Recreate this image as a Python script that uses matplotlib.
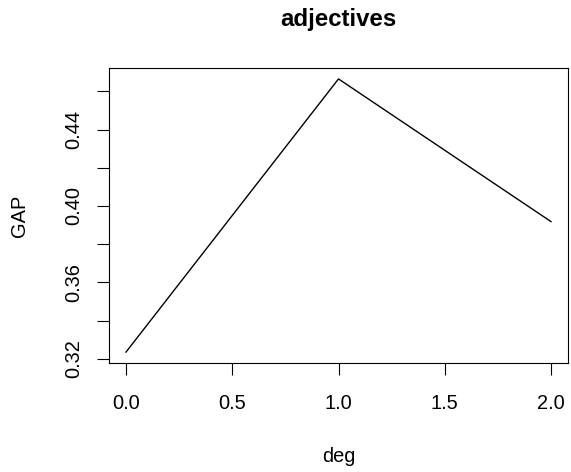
import matplotlib
matplotlib.use('Agg')
import matplotlib.pyplot as plt

deg = [0, 1, 2]
gap = [0.3235, 0.4665, 0.3918]
x_ticks = [0.0, 0.5, 1.0, 1.5, 2.0]
y_ticks = [0.32, 0.34, 0.36, 0.38, 0.40, 0.42, 0.44, 0.46]
y_labels = ['0.32', '', '0.36', '', '0.40', '', '0.44', '']

plt.rcParams['font.family'] = ['Liberation Sans', 'DejaVu Sans']

fig = plt.figure(figsize=(5.71, 4.72), dpi=100)
ax = fig.add_axes([109 / 571, 1 - 363 / 472, 459 / 571, 295 / 472])
ax.plot(deg, gap, color='black', linewidth=1.0)

ax.set_xlim(-0.08, 2.08)
lo, hi = min(gap), max(gap)
ext = (hi - lo) * 0.04
ax.set_ylim(lo - ext, hi + ext)

ax.set_xticks(x_ticks)
ax.set_xticklabels(['%.1f' % v for v in x_ticks])
ax.set_yticks(y_ticks)
ax.set_yticklabels(y_labels, rotation=90, va='center')
ax.tick_params(direction='out', length=8.6, width=0.8, labelsize=14.4, colors='black')
ax.tick_params(axis='x', pad=14)
ax.tick_params(axis='y', pad=10)
for s in ax.spines.values():
    s.set_linewidth(0.8)

ax.set_title('adjectives', fontsize=17.3, fontweight='bold', pad=30)
ax.set_xlabel('deg', fontsize=14.4)
ax.set_ylabel('GAP', fontsize=14.4)
ax.xaxis.set_label_coords(0.5, (363 - 447) / 295)
ax.yaxis.set_label_coords((29 - 109) / 459, 0.5)

fig.savefig('out.png', dpi=100)
